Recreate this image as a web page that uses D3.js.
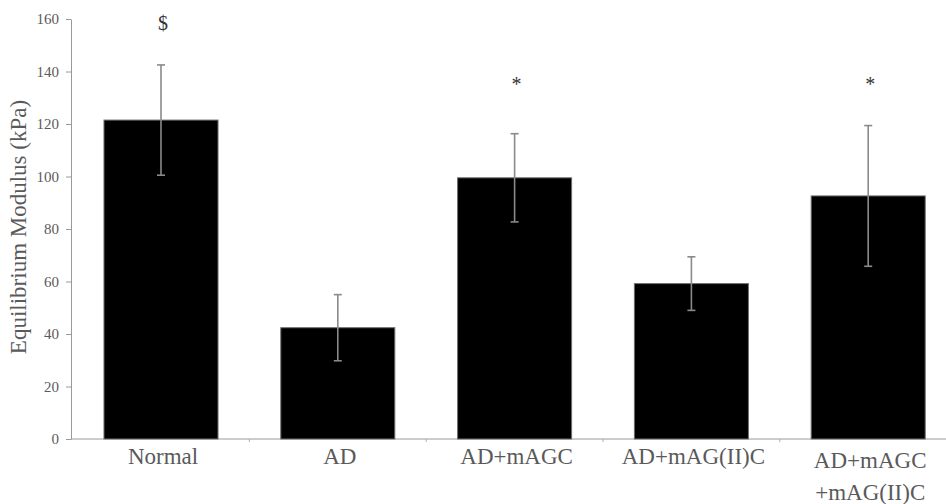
<!DOCTYPE html>
<html>
<head>
<meta charset="utf-8">
<script src="https://cdn.jsdelivr.net/npm/d3@7/dist/d3.min.js"></script>
<style>
  body { margin: 0; background: #fff; }
</style>
</head>
<body>
<div id="chart"></div>
<script>
// groups and measured values (kPa)
var categories = ["Normal", "AD", "AD+mAGC", "AD+mAG(II)C", "AD+mAGC\n+mAG(II)C"];
var means = [121.5, 42.4, 99.5, 59.2, 92.6];
var errors = [21, 12.6, 16.8, 10.2, 26.8];
var marks = ["$", "", "*", "", "*"];
var yTicks = [0, 20, 40, 60, 80, 100, 120, 140, 160];

var width = 946, height = 504;
var serif = "Liberation Serif";

var svg = d3.select("#chart").append("svg")
    .attr("width", width)
    .attr("height", height)
    .attr("font-family", serif);

var y = d3.scaleLinear().domain([0, 160]).range([439, 19]);
var x = d3.scaleBand()
    .domain(categories)
    .range([72.6, 956.6])
    .paddingInner(0.355)
    .paddingOuter(0.1775);

// y axis
var yAxis = svg.append("g")
    .attr("transform", "translate(71,0)")
    .call(d3.axisLeft(y).tickValues(yTicks).tickSize(5).tickSizeOuter(0).tickPadding(7));
yAxis.attr("font-family", serif).attr("font-size", 15);
yAxis.select(".domain").attr("stroke", "#9a9a9a");
yAxis.selectAll(".tick line").attr("stroke", "#9a9a9a");
yAxis.selectAll(".tick text")
    .attr("fill", "#5a5a5a")
    .attr("font-family", serif)
    .attr("font-size", 15);

// x axis line and separators between groups
svg.append("line")
    .attr("x1", 71).attr("x2", width)
    .attr("y1", y(0)).attr("y2", y(0))
    .attr("stroke", "#9a9a9a");

svg.selectAll("line.sep")
    .data(categories.slice(1))
    .enter().append("line")
    .attr("class", "sep")
    .attr("x1", function(d) { return x(d) - x.step() * x.paddingInner() / 2; })
    .attr("x2", function(d) { return x(d) - x.step() * x.paddingInner() / 2; })
    .attr("y1", y(0)).attr("y2", y(0) + 3)
    .attr("stroke", "#b0b0b0");

// bars
svg.selectAll("rect.bar")
    .data(categories)
    .enter().append("rect")
    .attr("class", "bar")
    .attr("x", function(d) { return x(d); })
    .attr("width", x.bandwidth())
    .attr("y", function(d, i) { return y(means[i]); })
    .attr("height", function(d, i) { return y(0) - y(means[i]); })
    .attr("fill", "#000")
    .attr("stroke", "#6e6e6e")
    .attr("stroke-width", 1);

// error bars
var eb = svg.selectAll("g.err")
    .data(categories)
    .enter().append("g")
    .attr("class", "err")
    .attr("stroke", "#8a8a8a")
    .attr("stroke-width", 1.6);

eb.append("line")
    .attr("x1", function(d) { return x(d) + x.bandwidth() / 2; })
    .attr("x2", function(d) { return x(d) + x.bandwidth() / 2; })
    .attr("y1", function(d, i) { return y(means[i] + errors[i]); })
    .attr("y2", function(d, i) { return y(means[i] - errors[i]); });

[1, -1].forEach(function(s) {
  eb.append("line")
    .attr("x1", function(d) { return x(d) + x.bandwidth() / 2 - 4; })
    .attr("x2", function(d) { return x(d) + x.bandwidth() / 2 + 4; })
    .attr("y1", function(d, i) { return y(means[i] + s * errors[i]); })
    .attr("y2", function(d, i) { return y(means[i] + s * errors[i]); });
});

// significance marks
svg.selectAll("text.mark")
    .data(categories)
    .enter().append("text")
    .attr("class", "mark")
    .attr("x", function(d) { return x(d) + x.bandwidth() / 2 + 2; })
    .attr("y", function(d, i) { return marks[i] === "$" ? 30 : 91; })
    .attr("text-anchor", "middle")
    .attr("fill", "#333")
    .attr("font-family", serif)
    .attr("font-size", 20)
    .text(function(d, i) { return marks[i]; });

// category labels
var lab = svg.selectAll("text.cat")
    .data(categories)
    .enter().append("text")
    .attr("class", "cat")
    .attr("text-anchor", "middle")
    .attr("fill", "#5a5a5a")
    .attr("font-family", serif)
    .attr("font-size", 23)
    .attr("transform", function(d, i) {
      var dy = d.indexOf("\n") >= 0 ? 468 : 464;
      return "translate(" + (x(d) + x.bandwidth() / 2 + 2) + "," + dy + ")";
    });

lab.selectAll("tspan")
    .data(function(d) { return d.split("\n"); })
    .enter().append("tspan")
    .attr("x", 0)
    .attr("dy", function(d, i) { return i === 0 ? 0 : 32; })
    .text(function(d) { return d; });

// y title
svg.append("text")
    .attr("transform", "translate(26,227) rotate(-90)")
    .attr("text-anchor", "middle")
    .attr("fill", "#5a5a5a")
    .attr("font-family", serif)
    .attr("font-size", 23)
    .text("Equilibrium Modulus (kPa)");
</script>
</body>
</html>
